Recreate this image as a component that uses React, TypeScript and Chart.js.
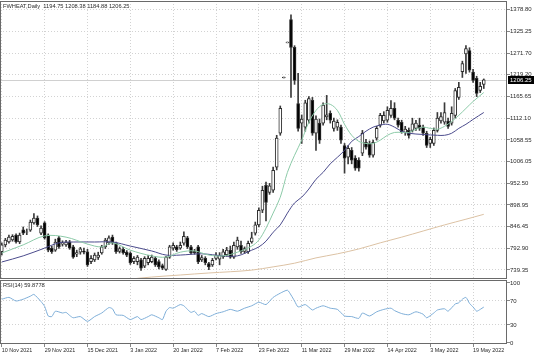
import React, { useEffect, useRef } from 'react';
import { Chart, registerables } from 'chart.js';

Chart.register(...registerables);

const SYMBOL = 'FWHEAT,Daily';
const RSI_NAME = 'RSI(14)';
const SLOT_COUNT = 142;
const TICK_STEP = 12;

const tickLabels = ['10 Nov 2021', '29 Nov 2021', '15 Dec 2021', '3 Jan 2022', '20 Jan 2022', '7 Feb 2022', '23 Feb 2022', '11 Mar 2022', '29 Mar 2022', '14 Apr 2022', '3 May 2022', '19 May 2022'];
const priceTicks = [1378.8, 1325.25, 1271.7, 1219.2, 1165.65, 1112.1, 1058.55, 1006.05, 952.5, 898.95, 846.45, 792.9, 739.35];
const rsiTicks = [100, 70, 30, 0];

const opens = [784, 801, 808, 813, 825, 808, 838, 832, 837, 855, 867, 830, 855, 825, 793, 788, 818, 803, 801, 808,
  796, 778, 783, 786, 784, 760, 764, 770, 781, 796, 806, 820, 806, 785, 790, 783, 781, 760, 760, 764,
  749, 757, 760, 768, 760, 750, 741, 771, 793, 796, 793, 805, 818, 796, 786, 796, 764, 768, 755, 752,
  768, 766, 772, 777, 788, 771, 796, 800, 785, 784, 808, 830, 850, 886, 947, 930, 935, 992, 1075, 1211,
  1297, 1354, 1286, 1148, 1100, 1090, 1107, 1156, 1075, 1100, 1100, 1115, 1124, 1087, 1090, 1090, 1045, 1016, 1033, 1014,
  1009, 1026, 1053, 1050, 1021, 1063, 1095, 1105, 1107, 1119, 1136, 1107, 1102, 1077, 1082, 1082, 1087, 1095, 1090, 1075,
  1050, 1050, 1082, 1105, 1102, 1105, 1100, 1119, 1163, 1226, 1270, 1278, 1225, 1210, 1180, 1194.75];
const highs = [806, 817, 825, 826, 828, 830, 845, 840, 862, 878, 872, 848, 858, 828, 798, 815, 822, 811, 812, 812,
  800, 788, 795, 793, 790, 775, 781, 783, 800, 817, 823, 825, 808, 796, 795, 787, 784, 772, 775, 768,
  772, 775, 776, 772, 764, 754, 773, 800, 806, 800, 808, 833, 822, 800, 790, 800, 775, 772, 758, 768,
  782, 782, 790, 795, 798, 808, 820, 810, 796, 810, 832, 857, 892, 945, 955, 952, 992, 1070, 1142, 1213,
  1299, 1366, 1290, 1222, 1120, 1156, 1165, 1163, 1118, 1110, 1150, 1168, 1130, 1112, 1108, 1095, 1050, 1045, 1040, 1020,
  1015, 1082, 1060, 1056, 1058, 1092, 1124, 1128, 1140, 1155, 1150, 1112, 1107, 1092, 1088, 1112, 1107, 1112, 1095, 1080,
  1065, 1088, 1126, 1126, 1150, 1112, 1140, 1185, 1200, 1252, 1290, 1285, 1232, 1215, 1200, 1208.38];
const lows = [776, 796, 805, 810, 805, 804, 826, 826, 834, 852, 846, 826, 815, 784, 780, 785, 792, 798, 797, 790,
  768, 772, 778, 779, 748, 755, 760, 765, 778, 792, 802, 802, 780, 781, 778, 772, 753, 755, 752, 738,
  745, 752, 757, 748, 742, 740, 738, 768, 788, 785, 790, 800, 792, 778, 778, 755, 760, 752, 740, 748,
  764, 752, 768, 773, 768, 768, 790, 780, 780, 780, 805, 825, 845, 880, 860, 925, 930, 985, 1070, 1211,
  1297, 1163, 1195, 1080, 1050, 1080, 1100, 1070, 1033, 1050, 1095, 1108, 1100, 1080, 1082, 1050, 977, 1000, 1000, 984,
  982, 1020, 1036, 1016, 1016, 1058, 1090, 1100, 1102, 1114, 1108, 1090, 1075, 1070, 1063, 1078, 1082, 1082, 1070, 1040,
  1040, 1045, 1078, 1100, 1097, 1087, 1095, 1112, 1158, 1212, 1222, 1225, 1200, 1165, 1175, 1184.88];
const closes = [801, 813, 820, 822, 808, 825, 830, 833, 857, 867, 850, 842, 818, 788, 784, 808, 796, 806, 808, 793,
  771, 782, 791, 783, 752, 768, 776, 776, 796, 813, 818, 806, 784, 792, 781, 776, 757, 768, 771, 744,
  768, 768, 771, 752, 747, 744, 771, 796, 800, 789, 800, 822, 796, 781, 782, 759, 770, 757, 747, 763,
  776, 776, 784, 788, 771, 800, 813, 784, 792, 805, 818, 850, 886, 935, 905, 946, 984, 1063, 1136, 1213,
  1299, 1286, 1205, 1087, 1110, 1150, 1160, 1075, 1110, 1058, 1144, 1120, 1107, 1105, 1102, 1058, 1014, 1038, 1009, 989,
  989, 1075, 1041, 1021, 1053, 1087, 1119, 1119, 1131, 1136, 1112, 1095, 1078, 1085, 1070, 1098, 1100, 1087, 1075, 1045,
  1060, 1082, 1112, 1116, 1126, 1092, 1124, 1180, 1188, 1246, 1283, 1230, 1205, 1173, 1190, 1206.25];

const maFastIdx = [0, 6, 12, 18, 24, 28, 31, 36, 42, 46, 50, 54, 58, 62, 66, 70, 72, 74, 76, 78, 80, 82, 84, 86, 88, 90, 92, 94, 96, 98, 100, 102, 104, 106, 108, 110, 112, 114, 116, 118, 120, 122, 124, 126, 128, 130, 132, 135];
const maFast = [781, 801, 823, 820, 803, 796, 806, 788, 774, 771, 783, 786, 776, 774, 783, 798, 813, 842, 879, 918, 979, 1021, 1058, 1102, 1131, 1146, 1146, 1131, 1097, 1070, 1055, 1050, 1050, 1058, 1070, 1077, 1077, 1077, 1085, 1090, 1087, 1085, 1092, 1104, 1119, 1136, 1153, 1175];

const maSlowIdx = [0, 6, 12, 16, 20, 26, 31, 36, 42, 46, 50, 56, 62, 66, 70, 72, 74, 76, 78, 80, 82, 84, 86, 88, 90, 92, 94, 96, 98, 100, 102, 104, 106, 108, 110, 112, 114, 118, 122, 124, 126, 128, 130, 132, 135];
const maSlow = [759, 774, 793, 806, 808, 808, 808, 798, 786, 776, 776, 779, 774, 774, 788, 796, 810, 832, 850, 879, 904, 918, 938, 962, 979, 1000, 1016, 1033, 1055, 1067, 1080, 1090, 1095, 1097, 1090, 1080, 1075, 1072, 1070, 1070, 1075, 1087, 1097, 1109, 1126];

const maLongIdx = [28, 36, 42, 50, 58, 64, 70, 76, 82, 88, 94, 100, 106, 112, 118, 124, 130, 135];
const maLong = [710, 717, 722, 727, 732, 735, 739, 747, 756, 769, 779, 791, 806, 820, 835, 850, 864, 876];

const rsiIdx = [0, 2, 4, 6, 8, 9, 11, 12, 13, 14, 15, 17, 18, 19, 20, 22, 24, 26, 28, 30, 31, 32, 34, 36, 38, 39, 41, 42, 44, 45, 46, 47, 48, 50, 51, 52, 53, 54, 55, 56, 58, 60, 62, 64, 66, 68, 70, 72, 74, 76, 78, 80, 81, 82, 83, 85, 87, 88, 90, 92, 94, 96, 98, 100, 101, 103, 105, 107, 109, 110, 112, 114, 116, 118, 119, 121, 122, 124, 125, 127, 128, 129, 130, 131, 132, 133, 134, 135];
const rsiVals = [73, 76, 70, 73, 78, 81, 69, 61, 45, 44, 53, 50, 51, 46, 42, 44, 36, 44, 50, 59, 57, 47, 46, 39, 44, 39, 44, 47, 42, 39, 53, 59, 58, 64, 62, 56, 51, 53, 46, 49, 44, 49, 52, 56, 53, 58, 62, 68, 64, 76, 83, 88, 80, 70, 60, 64, 55, 58, 62, 58, 56, 45, 44, 41, 50, 45, 52, 56, 58, 54, 49, 47, 52, 48, 42, 50, 55, 57, 53, 65, 67, 73, 76, 66, 60, 53, 56, 59.8778];

const FONT = 'Liberation Sans, Arial, sans-serif';
const GRID = '#d2d2d2';
const FRAME = '#6a6a6a';
const TEXT = '#2a2a2a';

const framePlugin = {
  id: 'frame',
  afterDraw(chart: any) {
    const { ctx, chartArea: a } = chart;
    ctx.save();
    ctx.strokeStyle = FRAME;
    ctx.lineWidth = 1;
    ctx.strokeRect(a.left + 0.5, a.top + 0.5, a.right - a.left - 1, a.bottom - a.top - 1);
    ctx.restore();
  },
};

const mainTextPlugin = {
  id: 'mainText',
  beforeDatasetsDraw(chart: any) {
    const { ctx, chartArea: a, scales } = chart;
    const last = closes.length - 1;
    const y = Math.round(scales.y.getPixelForValue(closes[last])) + 0.5;
    ctx.save();
    ctx.strokeStyle = '#d0d0d0';
    ctx.lineWidth = 1;
    ctx.beginPath();
    ctx.moveTo(a.left, y);
    ctx.lineTo(a.right, y);
    ctx.stroke();
    ctx.restore();
  },
  afterDraw(chart: any) {
    const { ctx, chartArea: a, scales } = chart;
    const last = closes.length - 1;
    ctx.save();
    ctx.font = `5.7px ${FONT}`;
    ctx.fillStyle = TEXT;
    ctx.textBaseline = 'middle';
    ctx.textAlign = 'left';
    const txt = `${SYMBOL}  ${opens[last].toFixed(2)} ${highs[last].toFixed(2)} ${lows[last].toFixed(2)} ${closes[last].toFixed(2)}`;
    ctx.fillText(txt, a.left + 3, a.top + 5);
    const y = scales.y.getPixelForValue(closes[last]);
    ctx.fillStyle = '#000';
    ctx.fillRect(a.right + 1, Math.round(y) - 4, 26, 8);
    ctx.fillStyle = '#fff';
    ctx.font = `6px ${FONT}`;
    ctx.fillText(closes[last].toFixed(2), a.right + 3, Math.round(y));
    ctx.restore();
  },
};

const rsiTextPlugin = {
  id: 'rsiText',
  afterDraw(chart: any) {
    const { ctx, chartArea: a } = chart;
    ctx.save();
    ctx.font = `5.7px ${FONT}`;
    ctx.fillStyle = TEXT;
    ctx.textBaseline = 'middle';
    ctx.fillText(`${RSI_NAME} ${rsiVals[rsiVals.length - 1].toFixed(4)}`, a.left + 3, a.top + 5.5);
    ctx.restore();
  },
};

export default function App() {
  const mainRef = useRef<HTMLCanvasElement>(null);
  const rsiRef = useRef<HTMLCanvasElement>(null);

  useEffect(() => {
    document.body.style.margin = '0';
    const slots = Array.from({ length: SLOT_COUNT }, (_, i) => i);
    const xTickValues = tickLabels.map((_, k) => k * TICK_STEP);

    const main = new Chart(mainRef.current as HTMLCanvasElement, {
      type: 'bar',
      data: {
        labels: slots,
        datasets: [
          {
            type: 'line', label: 'MA fast', data: maFastIdx.map((x, k) => ({ x, y: maFast[k] })),
            borderColor: '#8ccaa8', borderWidth: 1, pointRadius: 0, tension: 0.35, order: 0,
          } as any,
          {
            type: 'line', label: 'MA slow', data: maSlowIdx.map((x, k) => ({ x, y: maSlow[k] })),
            borderColor: '#4b4b8c', borderWidth: 1, pointRadius: 0, tension: 0.35, order: 0,
          } as any,
          {
            type: 'line', label: 'MA long', data: maLongIdx.map((x, k) => ({ x, y: maLong[k] })),
            borderColor: '#dcc2a4', borderWidth: 1, pointRadius: 0, tension: 0.35, order: 0,
          } as any,
          {
            type: 'bar', label: 'body', data: opens.map((o, i) => [o, closes[i]]),
            backgroundColor: opens.map((o, i) => (closes[i] >= o ? '#ffffff' : '#000000')),
            borderColor: '#2e2e2e', borderWidth: 1, borderSkipped: false, barThickness: 3, grouped: false, order: 1,
          } as any,
          {
            type: 'bar', label: 'wick', data: lows.map((l, i) => [l, highs[i]]),
            backgroundColor: '#3a3a3a', borderWidth: 0, barThickness: 1, grouped: false, order: 2,
          } as any,
        ],
      },
      options: {
        responsive: false,
        animation: false,
        devicePixelRatio: 1,
        events: [],
        layout: { padding: { top: 1, bottom: 1, left: 0, right: 0 } },
        plugins: { legend: { display: false }, tooltip: { enabled: false } },
        scales: {
          x: {
            type: 'category', offset: true,
            afterBuildTicks: (s: any) => { s.ticks = xTickValues.map((v) => ({ value: v })); },
            afterFit: (s: any) => { s.height = 0; s.paddingLeft = 0; s.paddingRight = 0; },
            ticks: { display: false, autoSkip: false },
            grid: { color: GRID, offset: false, drawTicks: false, lineWidth: 1 },
            border: { display: false, dash: [1, 2] },
          },
          y: {
            position: 'right', min: 717.2, max: 1399.7,
            afterBuildTicks: (s: any) => { s.ticks = priceTicks.map((v) => ({ value: v })); },
            afterFit: (s: any) => { s.width = 29; s.paddingTop = 0; s.paddingBottom = 0; },
            ticks: { autoSkip: false, padding: 0, color: TEXT, font: { family: FONT, size: 6 }, callback: (v: any) => Number(v).toFixed(2) },
            grid: { color: GRID, drawTicks: true, tickLength: 3, tickColor: '#888', tickBorderDash: [], lineWidth: 1 },
            border: { display: false, dash: [1, 2] },
          },
        },
      } as any,
      plugins: [mainTextPlugin, framePlugin],
    });

    const rsi = new Chart(rsiRef.current as HTMLCanvasElement, {
      type: 'line',
      data: {
        labels: slots,
        datasets: [
          {
            label: RSI_NAME, data: rsiIdx.map((x, k) => ({ x, y: rsiVals[k] })),
            borderColor: '#7eaed8', borderWidth: 1, pointRadius: 0, tension: 0.2,
          } as any,
        ],
      },
      options: {
        responsive: false,
        animation: false,
        devicePixelRatio: 1,
        events: [],
        layout: { padding: { top: 0, bottom: 0, left: 0, right: 0 } },
        plugins: { legend: { display: false }, tooltip: { enabled: false } },
        scales: {
          x: {
            type: 'category', offset: true,
            afterBuildTicks: (s: any) => { s.ticks = xTickValues.map((v) => ({ value: v })); },
            afterFit: (s: any) => { s.height = 13; s.paddingLeft = 0; s.paddingRight = 0; },
            ticks: {
              autoSkip: false, maxRotation: 0, align: 'start', padding: 0, color: TEXT,
              font: { family: FONT, size: 5.4 },
              callback: (v: any) => tickLabels[Math.round(Number(v) / TICK_STEP)] ?? '',
            },
            grid: { color: GRID, offset: false, drawTicks: true, tickLength: 3, tickColor: '#888', tickBorderDash: [], lineWidth: 1 },
            border: { display: false, dash: [1, 2] },
          },
          y: {
            position: 'right', min: -1.7, max: 105,
            afterBuildTicks: (s: any) => { s.ticks = rsiTicks.map((v) => ({ value: v })); },
            afterFit: (s: any) => { s.width = 29; s.paddingTop = 0; s.paddingBottom = 0; },
            ticks: { autoSkip: false, padding: 0, color: TEXT, font: { family: FONT, size: 6 }, callback: (v: any) => String(v) },
            grid: {
              color: (c: any) => (c.tick && (c.tick.value === 70 || c.tick.value === 30) ? GRID : 'rgba(0,0,0,0)'),
              drawTicks: true, tickLength: 3, tickColor: '#888', tickBorderDash: [], lineWidth: 1,
            },
            border: { display: false, dash: [1, 2] },
          },
        },
      } as any,
      plugins: [rsiTextPlugin, framePlugin],
    });

    return () => { main.destroy(); rsi.destroy(); };
  }, []);

  return (
    <div style={{ position: 'relative', width: 536, height: 357, background: '#ffffff' }}>
      <canvas ref={mainRef} width={536} height={280} style={{ position: 'absolute', left: 0, top: 0, width: 536, height: 280 }} />
      <canvas ref={rsiRef} width={536} height={77} style={{ position: 'absolute', left: 0, top: 280, width: 536, height: 77 }} />
    </div>
  );
}
